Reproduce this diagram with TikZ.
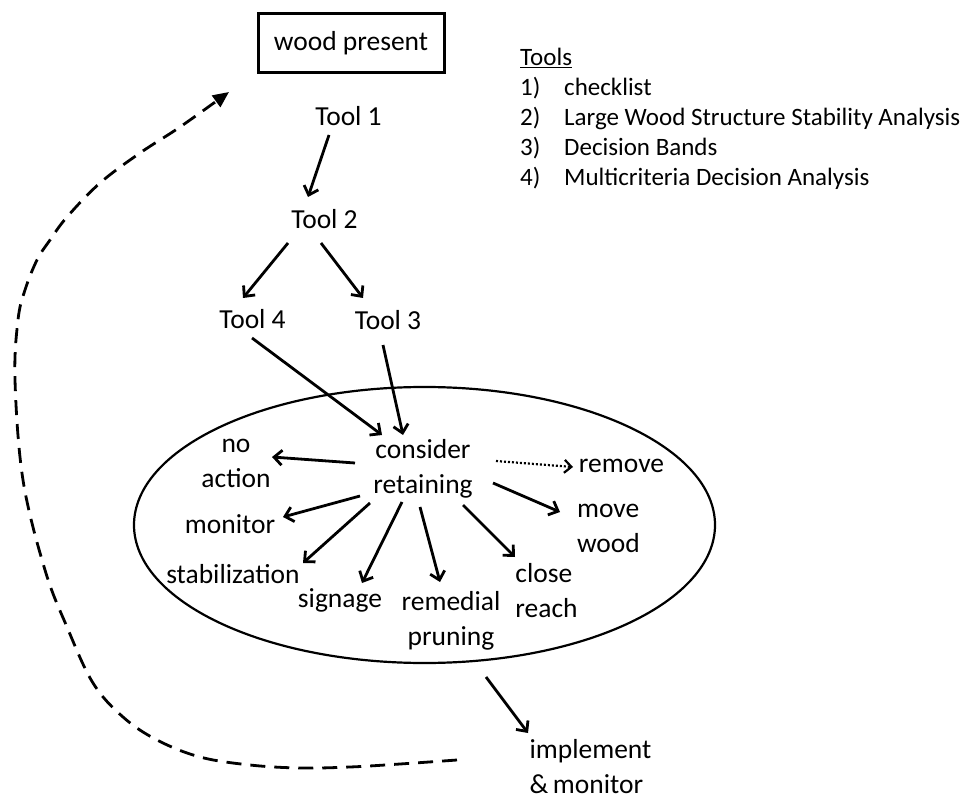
\documentclass[tikz,border=0pt]{standalone}
\usepackage{fontspec}
\setmainfont{Carlito}
\usetikzlibrary{arrows.meta,calc,shapes.geometric}
\begin{document}
\begin{tikzpicture}[x=1pt,y=-1pt,
  lbl/.style={inner sep=0pt, align=center, font=\fontsize{27.5}{35}\selectfont},
  lbll/.style={lbl, align=left},
  arr/.style={line width=2.8pt, -{Straight Barb[length=8pt,width=15pt]}},
  dotarr/.style={line width=2.2pt, dash pattern=on 2pt off 2pt, -{Straight Barb[length=7pt,width=13pt]}},
  backarr/.style={line width=2.8pt, dash pattern=on 15pt off 9pt, -{Triangle[length=16pt,width=14pt]}}]
\useasboundingbox (0,0) rectangle (969,799);
% containers
\node[ellipse, draw, line width=2.2pt, minimum width=581pt, minimum height=276pt, inner sep=0pt] (ell) at (424.5,525) {};
\node[draw, line width=3pt, minimum width=186pt, minimum height=59pt, lbl] (wood) at (351,43.5) {\strut wood present};
% tools list
\node[anchor=north west, inner sep=0pt, align=left, font=\fontsize{25}{30}\selectfont] (tools) at (520,44)
  {\strut\underline{Tools}\\
   \strut\makebox[44pt][l]{1)}checklist\\
   \strut\makebox[44pt][l]{2)}Large Wood Structure Stability Analysis\\
   \strut\makebox[44pt][l]{3)}Decision Bands\\
   \strut\makebox[44pt][l]{4)}Multicriteria Decision Analysis};
% tools
\node[lbl] (t1) at (348.5,119) {\strut Tool 1};
\node[lbl] (t2) at (324.5,222) {\strut Tool 2};
\node[lbl] (t4) at (252.5,322) {\strut Tool 4};
\node[lbl] (t3) at (388,323) {\strut Tool 3};
% options
\node[lbl] (cr) at (423,468.5) {\strut consider\\\strut retaining};
\node[lbl] (na) at (236,462.5) {\strut no\\\strut action};
\node[lbl] (rm) at (621.5,465) {\strut remove};
\node[lbl] (mon) at (230,526) {\strut monitor};
\node[lbll] (mw) at (608.5,527.5) {\strut move\\\strut wood};
\node[lbl] (stab) at (233,576) {\strut stabilization};
\node[lbl] (sig) at (340,600) {\strut signage};
\node[lbl] (rp) at (451,620.5) {\strut remedial\\\strut pruning};
\node[lbll] (clr) at (546.5,592.5) {\strut close\\\strut reach};
\node[lbll] (impl) at (590.5,768.5) {\strut implement\\\strut \&\,monitor};
% connectors
\draw[arr] ($(t1)+(-19.5,16)$) -- ($(t2)+(-16.5,-25)$);
\draw[arr] ($(t2)+(-36.5,21)$) -- ($(t4)+(-9.5,-24)$);
\draw[arr] ($(t2)+(-3.5,21)$) -- ($(t3)+(-25,-25)$);
\draw[arr] ($(t4)+(-0.5,16)$) -- ($(cr)+(-41,-33.5)$);
\draw[arr] ($(t3)+(-5,22)$) -- ($(cr)+(-20,-33.5)$);
\draw[arr] ($(cr)+(-68,-5.5)$) -- ($(na)+(36,-5.5)$);
\draw[arr] ($(cr)+(-63,27.5)$) -- ($(mon)+(53,-9)$);
\draw[arr] ($(cr)+(-53,34.5)$) -- ($(stab)+(70,-13)$);
\draw[arr] ($(cr)+(-21,33.5)$) -- ($(sig)+(22,-17)$);
\draw[arr] ($(cr)+(-3,38.5)$) -- ($(rp)+(-11,-38.5)$);
\draw[arr] ($(cr)+(40,36.5)$) -- ($(clr)+(-31.5,-35.5)$);
\draw[arr] ($(cr)+(70,14.5)$) -- ($(mw)+(-48.5,-15.5)$);
\draw[dotarr] ($(cr)+(73,-7.5)$) -- ($(rm)+(-48.5,2)$);
\draw[arr] ($(ell.center)+(61.5,152)$) -- ($(impl)+(-62.5,-35.5)$);
% feedback loop
\coordinate (dstart) at ($(impl)+(-133.5,-8.5)$);
\coordinate (dend) at ($(wood)+(-122,48.5)$);
\draw[backarr] plot[smooth, tension=0.6] coordinates {(dstart) (400,764) (350,767) (300,768) (250,765) (200,757) (157,740) (123,717) (93,683) (67,627) (45,570) (23,480) (15,380) (18,320) (25,290) (37,260) (50,240) (67,217) (100,183) (140,153) (180,127) (dend)};
\end{tikzpicture}
\end{document}
